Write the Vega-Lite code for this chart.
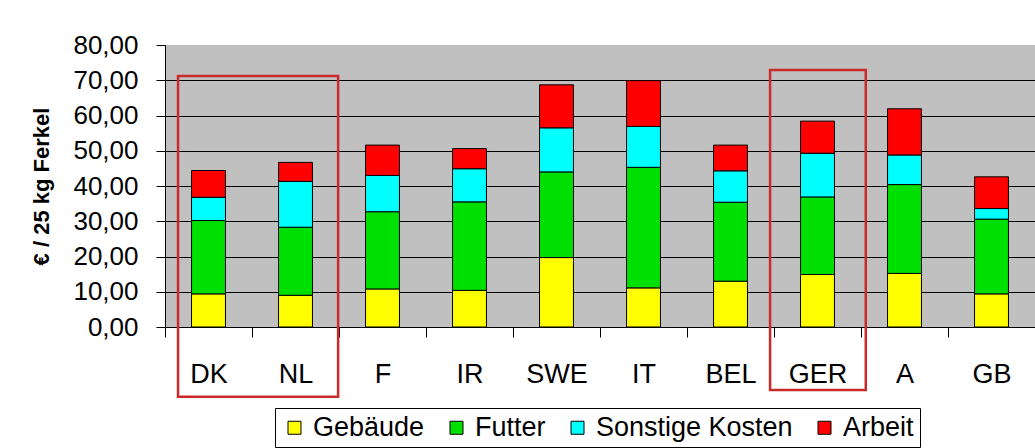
{
  "$schema": "https://vega.github.io/schema/vega-lite/v6.json",
  "width": 870,
  "height": 282,
  "autosize": {"type": "none"},
  "padding": {"left": 165, "top": 45, "right": 0, "bottom": 121},
  "background": "white",
  "config": {
    "view": {"fill": "#c0c0c0", "stroke": null},
    "font": "Liberation Sans"
  },
  "layer": [
    {
      "data": {
        "values": [
          {"Land": "DK", "Kategorie": "Gebäude", "o": 1, "Wert": 9.4},
          {"Land": "DK", "Kategorie": "Futter", "o": 2, "Wert": 20.8},
          {"Land": "DK", "Kategorie": "Sonstige Kosten", "o": 3, "Wert": 6.6},
          {"Land": "DK", "Kategorie": "Arbeit", "o": 4, "Wert": 7.6},
          {"Land": "NL", "Kategorie": "Gebäude", "o": 1, "Wert": 9.0},
          {"Land": "NL", "Kategorie": "Futter", "o": 2, "Wert": 19.3},
          {"Land": "NL", "Kategorie": "Sonstige Kosten", "o": 3, "Wert": 13.0},
          {"Land": "NL", "Kategorie": "Arbeit", "o": 4, "Wert": 5.4},
          {"Land": "F", "Kategorie": "Gebäude", "o": 1, "Wert": 10.8},
          {"Land": "F", "Kategorie": "Futter", "o": 2, "Wert": 21.9},
          {"Land": "F", "Kategorie": "Sonstige Kosten", "o": 3, "Wert": 10.3},
          {"Land": "F", "Kategorie": "Arbeit", "o": 4, "Wert": 8.6},
          {"Land": "IR", "Kategorie": "Gebäude", "o": 1, "Wert": 10.4},
          {"Land": "IR", "Kategorie": "Futter", "o": 2, "Wert": 25.1},
          {"Land": "IR", "Kategorie": "Sonstige Kosten", "o": 3, "Wert": 9.4},
          {"Land": "IR", "Kategorie": "Arbeit", "o": 4, "Wert": 5.7},
          {"Land": "SWE", "Kategorie": "Gebäude", "o": 1, "Wert": 19.7},
          {"Land": "SWE", "Kategorie": "Futter", "o": 2, "Wert": 24.3},
          {"Land": "SWE", "Kategorie": "Sonstige Kosten", "o": 3, "Wert": 12.5},
          {"Land": "SWE", "Kategorie": "Arbeit", "o": 4, "Wert": 12.2},
          {"Land": "IT", "Kategorie": "Gebäude", "o": 1, "Wert": 11.1},
          {"Land": "IT", "Kategorie": "Futter", "o": 2, "Wert": 34.2},
          {"Land": "IT", "Kategorie": "Sonstige Kosten", "o": 3, "Wert": 11.6},
          {"Land": "IT", "Kategorie": "Arbeit", "o": 4, "Wert": 13.0},
          {"Land": "BEL", "Kategorie": "Gebäude", "o": 1, "Wert": 13.0},
          {"Land": "BEL", "Kategorie": "Futter", "o": 2, "Wert": 22.4},
          {"Land": "BEL", "Kategorie": "Sonstige Kosten", "o": 3, "Wert": 8.9},
          {"Land": "BEL", "Kategorie": "Arbeit", "o": 4, "Wert": 7.3},
          {"Land": "GER", "Kategorie": "Gebäude", "o": 1, "Wert": 14.9},
          {"Land": "GER", "Kategorie": "Futter", "o": 2, "Wert": 22.0},
          {"Land": "GER", "Kategorie": "Sonstige Kosten", "o": 3, "Wert": 12.4},
          {"Land": "GER", "Kategorie": "Arbeit", "o": 4, "Wert": 9.1},
          {"Land": "A", "Kategorie": "Gebäude", "o": 1, "Wert": 15.2},
          {"Land": "A", "Kategorie": "Futter", "o": 2, "Wert": 25.2},
          {"Land": "A", "Kategorie": "Sonstige Kosten", "o": 3, "Wert": 8.4},
          {"Land": "A", "Kategorie": "Arbeit", "o": 4, "Wert": 13.1},
          {"Land": "GB", "Kategorie": "Gebäude", "o": 1, "Wert": 9.4},
          {"Land": "GB", "Kategorie": "Futter", "o": 2, "Wert": 21.2},
          {"Land": "GB", "Kategorie": "Sonstige Kosten", "o": 3, "Wert": 3.0},
          {"Land": "GB", "Kategorie": "Arbeit", "o": 4, "Wert": 9.0}
        ]
      },
      "mark": {"type": "bar", "stroke": "black", "strokeWidth": 1, "width": {"band": 0.39}},
      "encoding": {
        "x": {
          "field": "Land",
          "type": "nominal",
          "scale": {"domain": ["DK", "NL", "F", "IR", "SWE", "IT", "BEL", "GER", "A", "GB"], "paddingInner": 0, "paddingOuter": 0},
          "axis": {
            "title": null,
            "tickBand": "extent",
            "tickSize": 10,
            "tickColor": "black",
            "domainColor": "black",
            "labelFontSize": 27,
            "labelColor": "black",
            "labelPadding": 24,
            "labelAngle": 0,
            "grid": false
          }
        },
        "y": {
          "field": "Wert",
          "type": "quantitative",
          "stack": "zero",
          "scale": {"domain": [0, 80], "nice": false},
          "axis": {
            "title": "€ / 25 kg Ferkel",
            "titleFontSize": 22,
            "titleFontWeight": "bold",
            "titleColor": "black",
            "titlePadding": 19,
            "values": [0, 10, 20, 30, 40, 50, 60, 70, 80],
            "tickCount": 9,
            "labelOverlap": false,
            "labelExpr": "replace(format(datum.value, '.2f'), '.', ',')",
            "labelFontSize": 26,
            "labelColor": "black",
            "labelPadding": 18,
            "tickSize": 9,
            "tickColor": "black",
            "domainColor": "black",
            "grid": true,
            "gridColor": {"condition": {"test": "datum.value >= 80 || datum.value <= 0", "value": "transparent"}, "value": "black"},
            "gridOpacity": 1
          }
        },
        "color": {
          "field": "Kategorie",
          "type": "nominal",
          "scale": {
            "domain": ["Gebäude", "Futter", "Sonstige Kosten", "Arbeit"],
            "range": ["#ffff00", "#00e000", "#00ffff", "#ff0000"]
          },
          "legend": {
            "orient": "none",
            "legendX": 110,
            "legendY": 363,
            "direction": "horizontal",
            "title": null,
            "strokeColor": "black",
            "fillColor": "white",
            "padding": 6,
            "symbolType": "square",
            "symbolSize": 169,
            "symbolStrokeColor": "black",
            "symbolStrokeWidth": 1,
            "symbolOpacity": 1,
            "labelFontSize": 27,
            "labelColor": "black",
            "labelOffset": 5,
            "labelLimit": 400,
            "columnPadding": 18
          }
        },
        "order": {"field": "o", "type": "quantitative"}
      }
    },
    {
      "data": {"values": [{"von": "DK", "bis": "NL", "oben": 71.2, "unten": -19.8}]},
      "mark": {"type": "rect", "filled": false, "stroke": "#cc2a2a", "strokeWidth": 2.5},
      "encoding": {
        "x": {"field": "von", "type": "nominal", "bandPosition": 0.15},
        "x2": {"field": "bis", "bandPosition": 0.99},
        "y": {"field": "oben", "type": "quantitative"},
        "y2": {"field": "unten"}
      }
    },
    {
      "data": {"values": [{"von": "BEL", "bis": "A", "oben": 72.9, "unten": -17.9}]},
      "mark": {"type": "rect", "filled": false, "stroke": "#cc2a2a", "strokeWidth": 2.5},
      "encoding": {
        "x": {"field": "von", "type": "nominal", "bandPosition": 0.955},
        "x2": {"field": "bis", "bandPosition": 0.055},
        "y": {"field": "oben", "type": "quantitative"},
        "y2": {"field": "unten"}
      }
    }
  ]
}
